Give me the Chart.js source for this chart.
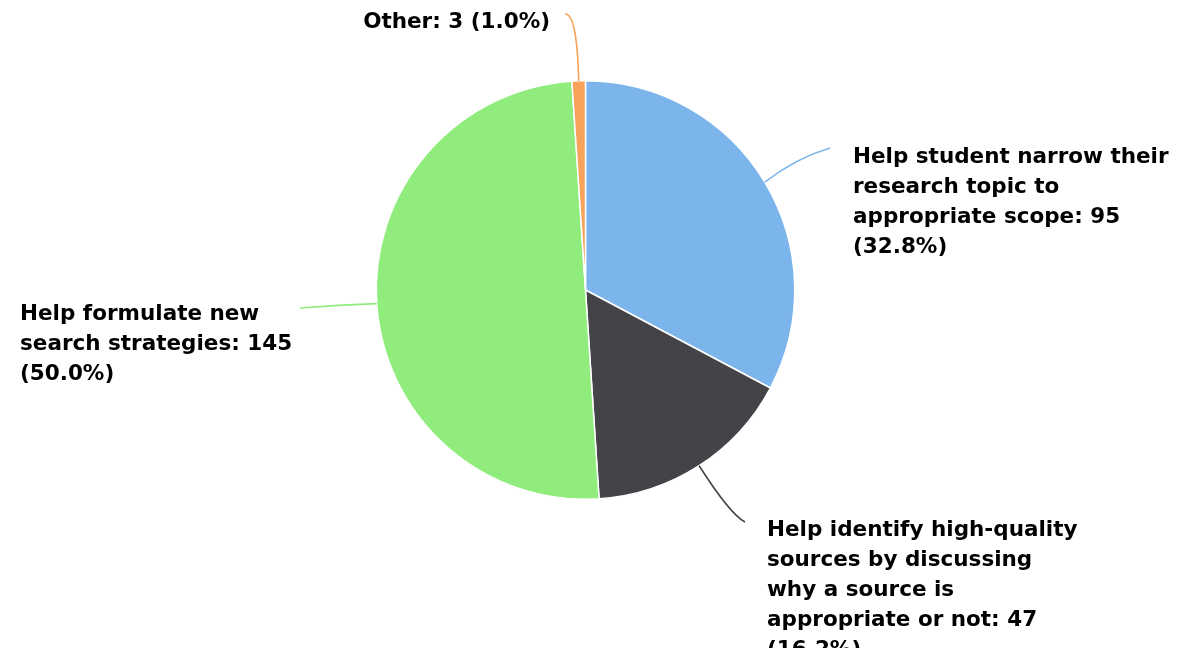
<!DOCTYPE html>
<html>
<head>
<meta charset="utf-8">
<script src="https://cdn.jsdelivr.net/npm/chart.js@4/dist/chart.umd.min.js"></script>
<style>
  html, body { margin: 0; padding: 0; background: #fff; }
  #wrap { width: 1181px; height: 648px; }
</style>
</head>
<body>
<div id="wrap"><canvas id="pie-chart" width="1181" height="648"></canvas></div>
<script>
const categories = [
	'Help student narrow their research topic to appropriate scope',
	'Help identify high-quality sources by discussing why a source is appropriate or not',
	'Help formulate new search strategies',
	'Other',
];
const counts = [95, 47, 145, 3];
const colors = ['#7cb5ec', '#434348', '#90ed7d', '#f7a35c'];

// label block placement (baseline of first line), words per line, connector end + bend
const labelLayout = [
	{ x: 853, y: 163, align: 'left',  words: [4, 3, 3, 1],    end: [830, 148], bend: [796, 158] },
	{ x: 767, y: 536, align: 'left',  words: [3, 3, 4, 4, 1], end: [745, 522], bend: [730, 514] },
	{ x: 20,  y: 320, align: 'left',  words: [3, 3, 1],       end: [300, 308], bend: [338, 305] },
	{ x: 550, y: 28,  align: 'right', words: [4],             end: [565, 14],  bend: [577, 13] },
];

const total = counts.reduce((a, b) => a + b, 0);
const LINE_H = 30;
const FONT = 'bold 21.5px "DejaVu Sans", Verdana, sans-serif';

function splitLines(text, wordsPerLine) {
	const words = text.split(' ');
	const lines = [];
	let pos = 0;
	wordsPerLine.forEach(n => {
		lines.push(words.slice(pos, pos + n).join(' '));
		pos += n;
	});
	if(pos < words.length) lines.push(words.slice(pos).join(' '));
	return lines;
}

const pieLabels = {
	id: 'pieLabels',
	afterDatasetsDraw(chart) {
		const ctx = chart.ctx;
		const arcs = chart.getDatasetMeta(0).data;
		ctx.save();
		arcs.forEach((arc, i) => {
			const { x, y, startAngle, endAngle, outerRadius } = arc.getProps(['x', 'y', 'startAngle', 'endAngle', 'outerRadius'], true);
			const mid = (startAngle + endAngle) / 2;
			const sx = x + Math.cos(mid) * outerRadius;
			const sy = y + Math.sin(mid) * outerRadius;
			const lay = labelLayout[i];

			ctx.beginPath();
			ctx.moveTo(sx, sy);
			ctx.quadraticCurveTo(lay.bend[0], lay.bend[1], lay.end[0], lay.end[1]);
			ctx.strokeStyle = colors[i];
			ctx.lineWidth = 1.6;
			ctx.stroke();

			const pct = (counts[i] / total * 100).toFixed(1);
			ctx.font = FONT;
			ctx.fillStyle = '#000';
			ctx.textAlign = lay.align;
			ctx.textBaseline = 'alphabetic';
			const lines = splitLines(categories[i] + ': ' + counts[i] + ' (' + pct + '%)', lay.words);
			lines.forEach((ln, k) => {
				ctx.fillText(ln, lay.x, lay.y + k * LINE_H);
			});
		});
		ctx.restore();
	}
};

const ctx = document.getElementById('pie-chart').getContext('2d');
new Chart(ctx, {
	type: 'pie',
	data: {
		labels: categories,
		datasets: [{
			data: counts,
			backgroundColor: colors,
			borderColor: '#ffffff',
			borderWidth: 1.5,
		}],
	},
	options: {
		responsive: false,
		animation: false,
		layout: {
			padding: { left: 375, right: 385, top: 80, bottom: 148 },
		},
		plugins: {
			legend: { display: false },
			tooltip: { enabled: false },
		},
	},
	plugins: [pieLabels],
});
</script>
</body>
</html>
